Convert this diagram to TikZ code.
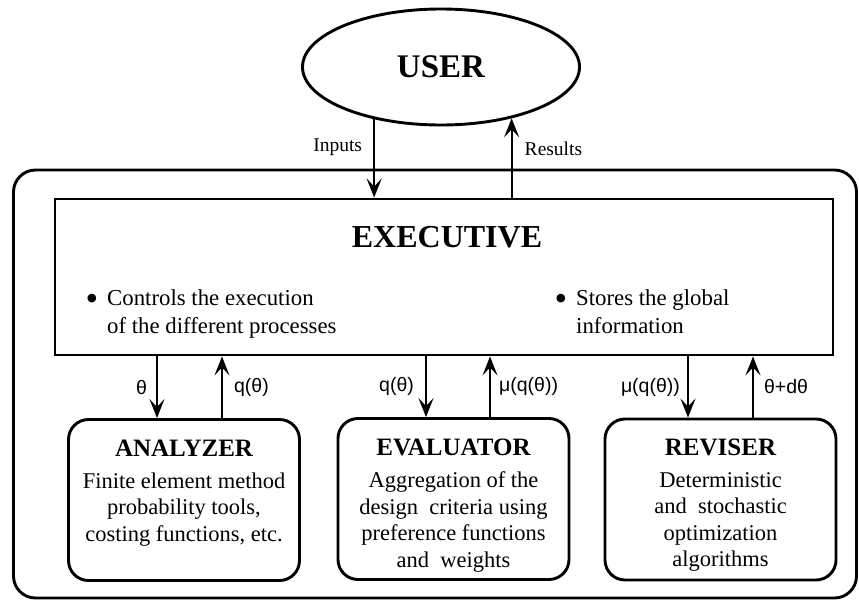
\documentclass[tikz,border=0pt]{standalone}
\usepackage{fontspec}
\setmainfont{Liberation Serif}
\newfontfamily\flowfont{Liberation Sans}
\usepackage{tikz}
\usetikzlibrary{arrows.meta,positioning,shapes.geometric}
\newcommand{\bigdot}{\llap{\raisebox{-5pt}{\fontsize{36}{36}\selectfont\textbullet}\hspace{9pt}}}

\begin{document}
\begin{tikzpicture}[
  x=1pt, y=-1pt,
  frame/.style={draw, line width=2.9pt},
  module/.style={
    draw, line width=2.9pt, rounded corners=20pt,
    minimum width=231pt, minimum height=161pt
  },
  title/.style={inner sep=0pt, font=\fontsize{25}{28}\selectfont\bfseries},
  body/.style={align=center, inner sep=0pt, font=\fontsize{22.5}{26.5}\selectfont},
  bullets/.style={align=left, inner sep=0pt, anchor=north west,
    font=\fontsize{22.8}{28}\selectfont},
  arrow/.style={-{Stealth[length=19pt,width=15pt,inset=8pt]}, line width=2.2pt},
  flow/.style={inner sep=0pt, font=\flowfont\fontsize{19.5}{22}\selectfont},
  io/.style={inner sep=0pt, font=\fontsize{19.5}{22}\selectfont}
]
\useasboundingbox (0,0) rectangle (859,600);

\node[frame, ellipse, minimum width=277pt, minimum height=116pt,
  font=\fontsize{33}{36}\selectfont\bfseries] (user) at (441,67) {USER};
\node[frame, rounded corners=22pt, minimum width=843pt, minimum height=428pt] (system) at (435,384) {};
\node[frame, minimum width=778pt, minimum height=156pt] (exec) at (444,277) {};
\node[inner sep=0pt, font=\fontsize{32}{34}\selectfont\bfseries] (exectitle) at (447,237) {EXECUTIVE};
\node[bullets] (controls) at (107,289) {\bigdot Controls the execution\\of the different processes};
\node[bullets] (stores) at (576,289) {\bigdot Stores the global\\information};

\node[module] (analyzer) at (184,500) {};
\node[module] (evaluator) at (453.5,499) {};
\node[module] (reviser) at (720.5,499.5) {};

\node[title] (analyzertitle) at ([yshift=-30pt]analyzer.north) {ANALYZER};
\node[title] (evaluatortitle) at ([yshift=-30pt]evaluator.north) {EVALUATOR};
\node[title] (revisertitle) at ([yshift=-30pt]reviser.north) {REVISER};
\node[body, below=16pt of analyzertitle] (analyzertext) {Finite element method\\probability tools,\\costing functions, etc.};
\node[body, below=16pt of evaluatortitle] (evaluatortext) {Aggregation of the\\design~ criteria using\\preference functions\\and~ weights};
\node[body, below=16pt of revisertitle] (revisertext) {Deterministic\\and~ stochastic\\optimization\\algorithms};

\coordinate (analyzerin) at ([xshift=-27pt]analyzer.north);
\coordinate (analyzerout) at ([xshift=38pt]analyzer.north);
\coordinate (evaluatorin) at ([xshift=-27.5pt]evaluator.north);
\coordinate (evaluatorout) at ([xshift=36.5pt]evaluator.north);
\coordinate (reviserin) at ([xshift=-32.5pt]reviser.north);
\coordinate (reviserout) at ([xshift=32.5pt]reviser.north);

\draw[arrow] (user.218) -- node[io, left=11pt, pos=0.36] (inputs) {Inputs} (user.218 |- exec.north);
\draw[arrow] (user.324 |- exec.north) -- node[io, right=12pt, pos=0.61] (results) {Results} (user.324);

\draw[arrow] (exec.south -| analyzerin) -- node[flow, left=9pt] (theta) {θ} (analyzerin);
\draw[arrow] (analyzerout) -- node[flow, right=11pt] (qtheta) {q(θ)} (exec.south -| analyzerout);
\draw[arrow] (exec.south -| evaluatorin) -- node[flow, left=11pt] (qthetaeval) {q(θ)} (evaluatorin);
\draw[arrow] (evaluatorout) -- node[flow, right=8pt] (muq) {μ(q(θ))} (exec.south -| evaluatorout);
\draw[arrow] (exec.south -| reviserin) -- node[flow, left=7pt] (muqrev) {μ(q(θ))} (reviserin);
\draw[arrow] (reviserout) -- node[flow, right=10pt] (dtheta) {θ+dθ} (exec.south -| reviserout);
\end{tikzpicture}
\end{document}
